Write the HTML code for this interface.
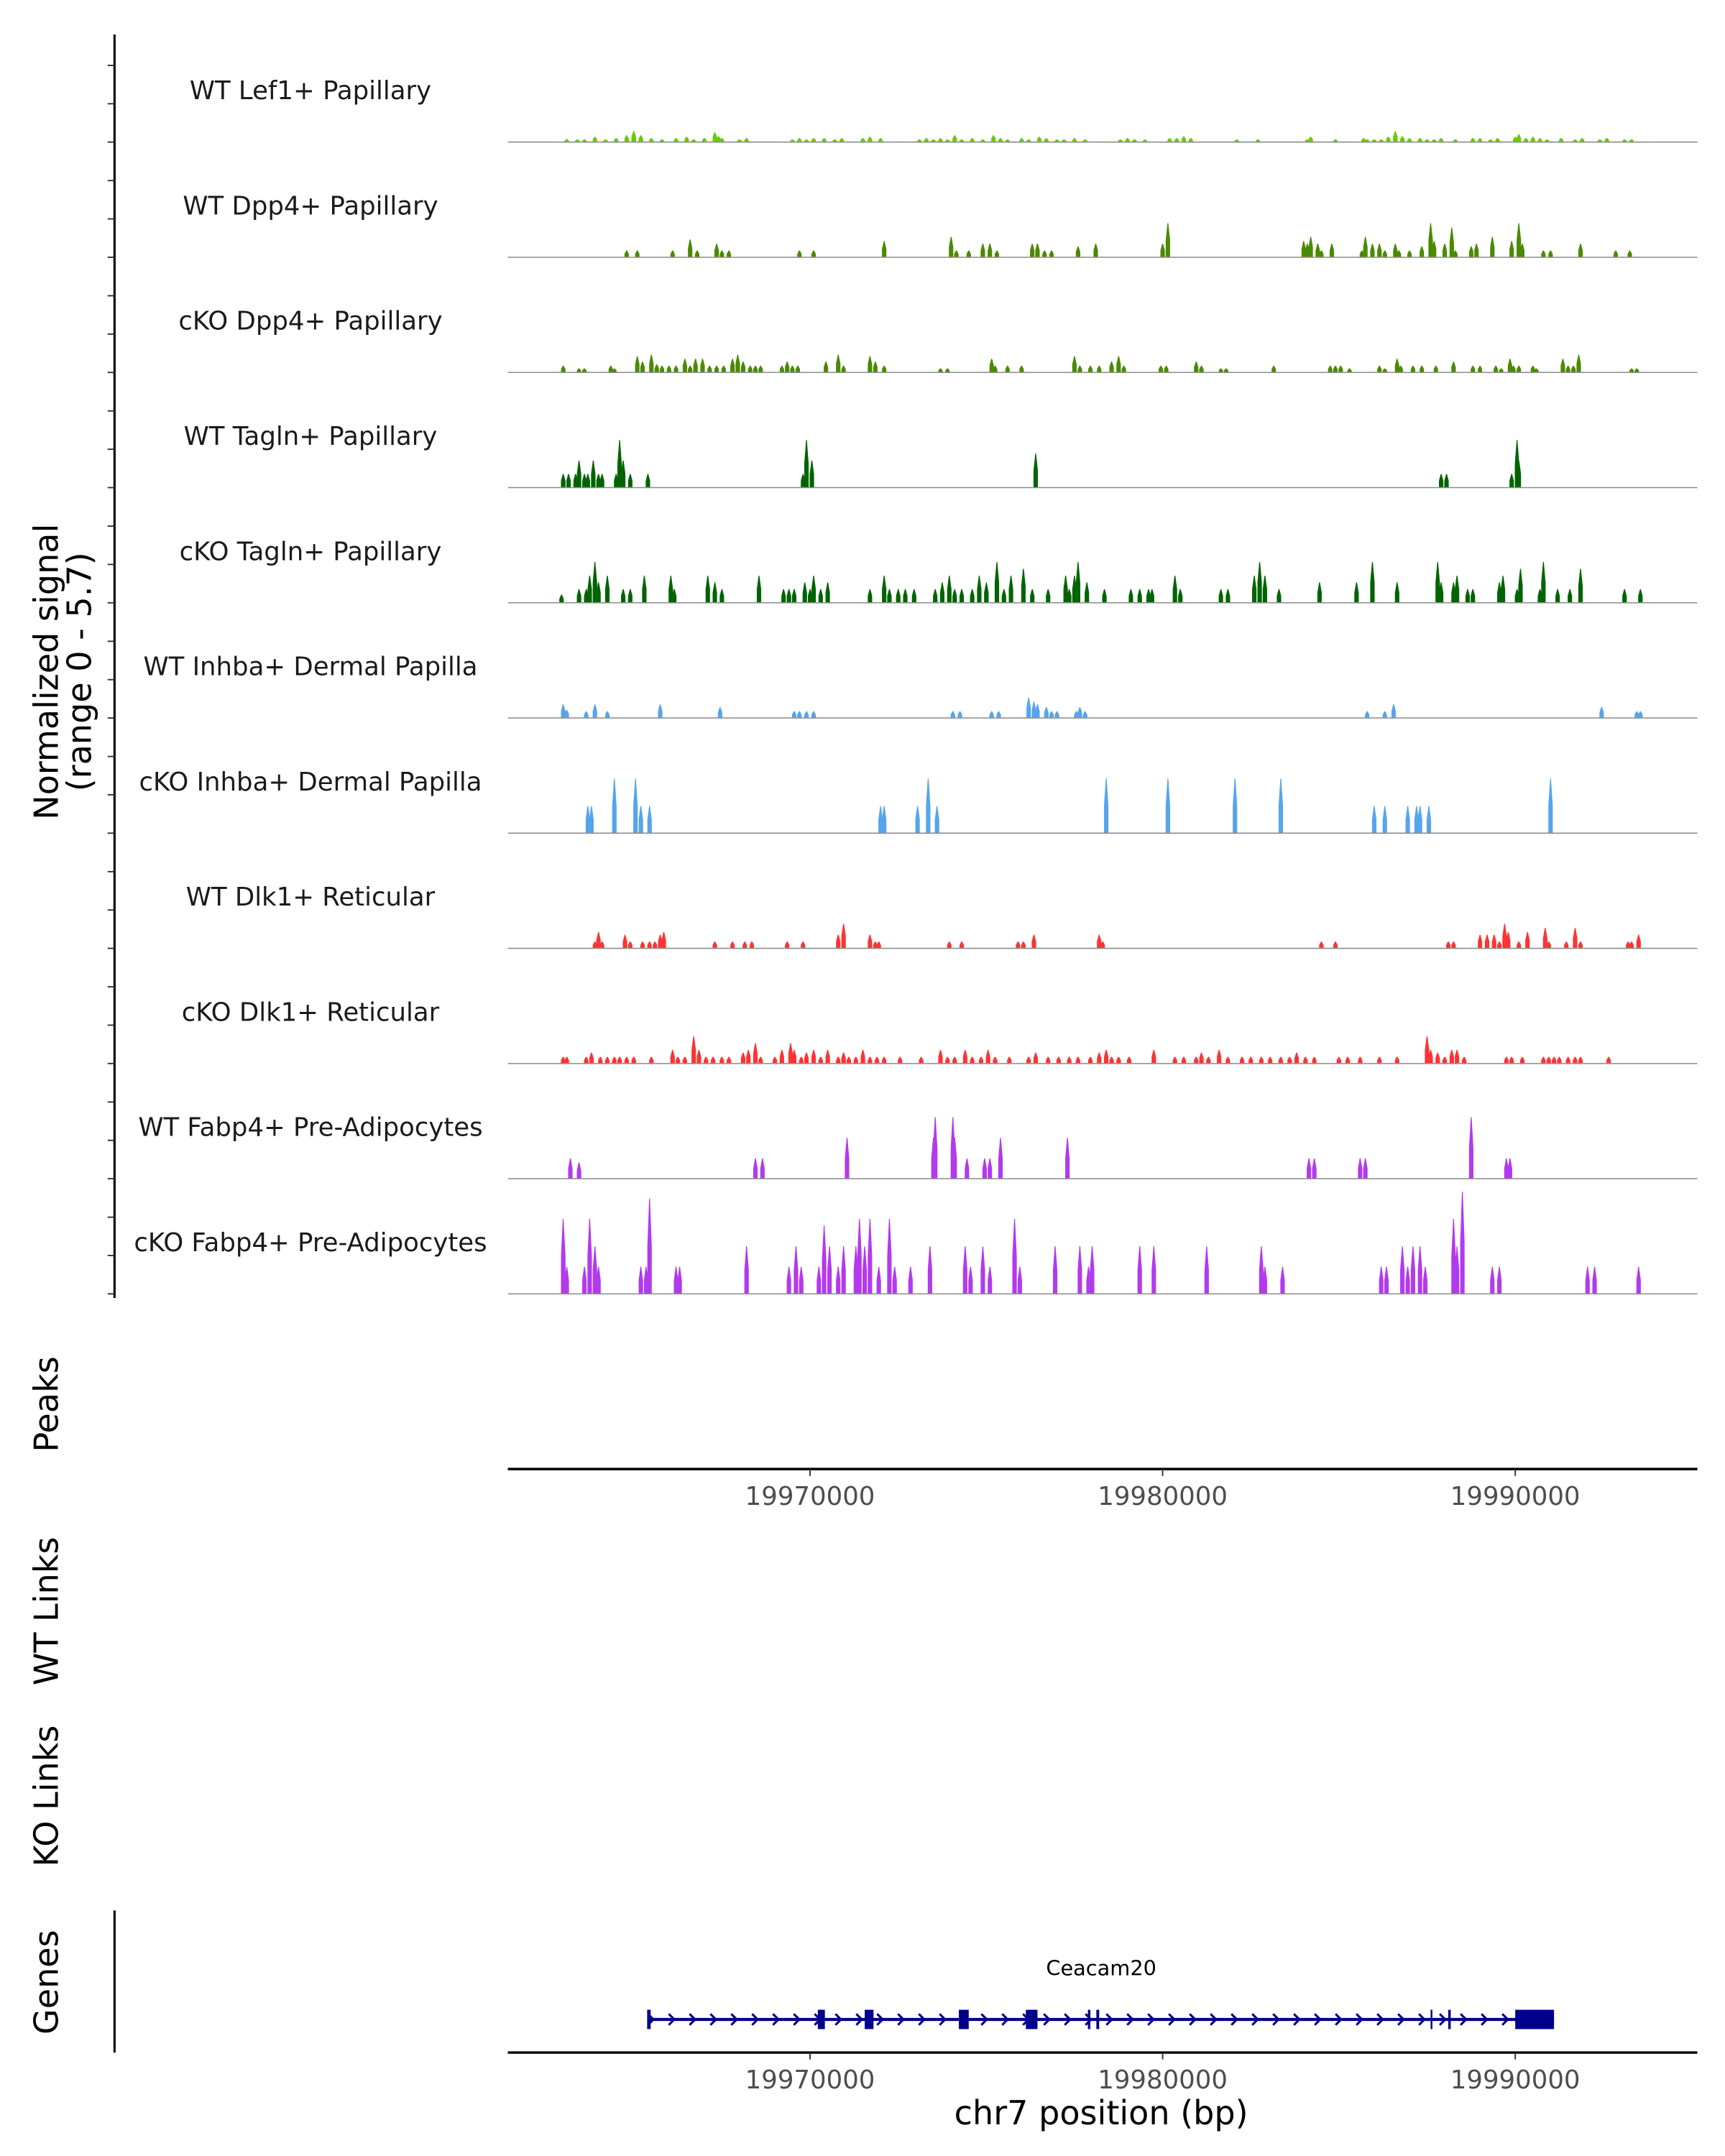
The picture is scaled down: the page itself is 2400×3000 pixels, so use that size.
<!DOCTYPE html>
<html><head><meta charset="utf-8"><style>
html,body{margin:0;padding:0;background:#fff;}
svg{display:block;}
text{font-family:"DejaVu Sans","Liberation Sans",sans-serif;}
</style></head><body>
<svg id="chart" width="2400" height="3000" viewBox="0 0 1250 1563" preserveAspectRatio="none" xmlns="http://www.w3.org/2000/svg">
<rect x="0" y="0" width="1250" height="1563" fill="#fff"/>
<g id="left"></g>
<g id="tracks"></g>
<g id="axes"></g>
<g id="genes"></g>
</svg>
<script>
// ---- data (positions in kb on chr7, values in normalized signal 0-5.7) ----
const trackNames = ["WT Lef1+ Papillary","WT Dpp4+ Papillary","cKO Dpp4+ Papillary","WT Tagln+ Papillary","cKO Tagln+ Papillary","WT Inhba+ Dermal Papilla","cKO Inhba+ Dermal Papilla","WT Dlk1+ Reticular","cKO Dlk1+ Reticular","WT Fabp4+ Pre-Adipocytes","cKO Fabp4+ Pre-Adipocytes"];
const trackColors = ["#66cc00","#4a8a00","#4a8a00","#006400","#006400","#56a5ec","#56a5ec","#ff3333","#ff3333","#b23aee","#b23aee"];
const xTicks = [19970,19980,19990];
const xTickLabels = ["19970000","19980000","19990000"];
const yRange = [0,5.7];

const pos0 = [19963.1,19963.4,19963.6,19963.9,19964.2,19964.5,19964.8,19965.0,19965.2,19965.5,19965.8,19966.2,19966.5,19966.7,19967.0,19967.3,19967.4,19967.5,19968.0,19968.2,19969.5,19969.7,19969.9,19970.1,19970.4,19970.7,19970.9,19971.5,19971.7,19972.0,19973.1,19973.3,19973.5,19973.7,19973.9,19974.1,19974.3,19974.6,19974.9,19975.2,19975.4,19975.6,19976.0,19976.2,19976.5,19976.7,19977.0,19977.2,19977.5,19977.8,19978.8,19979.0,19979.2,19979.5,19980.2,19980.4,19980.6,19980.8,19982.1,19982.7,19984.1,19984.2,19984.9,19985.7,19985.8,19986.0,19986.2,19986.4,19986.6,19986.8,19987.0,19987.3,19987.5,19987.7,19987.9,19988.3,19988.8,19989.0,19989.3,19989.5,19990.0,19990.1,19990.3,19990.5,19990.7,19990.9,19991.3,19991.7,19991.9,19992.4,19992.6,19993.1,19993.3];
const val0 = [.15,.14,.14,.27,.14,.2,.35,.55,.35,.2,.14,.2,.27,.14,.2,.5,.3,.2,.14,.2,.14,.2,.14,.2,.2,.14,.2,.2,.27,.2,.14,.2,.14,.2,.14,.35,.14,.2,.14,.35,.2,.14,.2,.14,.27,.2,.14,.14,.2,.14,.14,.2,.14,.14,.2,.2,.3,.2,.14,.14,.14,.27,.14,.2,.14,.14,.14,.27,.55,.3,.2,.2,.14,.14,.2,.14,.2,.2,.14,.2,.27,.4,.2,.27,.2,.14,.2,.14,.2,.14,.2,.14,.14];

const pos1 = [19964.8,19965.1,19966.1,19966.6,19966.8,19967.35,19967.5,19967.7,19969.7,19970.1,19972.1,19974.0,19974.15,19974.5,19974.9,19975.1,19975.3,19976.3,19976.45,19976.65,19976.85,19977.6,19978.1,19980.0,19980.15,19984.0,19984.1,19984.2,19984.4,19984.5,19984.8,19985.65,19985.75,19985.95,19986.15,19986.3,19986.6,19986.7,19987.0,19987.35,19987.6,19987.7,19988.0,19988.2,19988.3,19988.75,19988.9,19989.35,19989.9,19990.1,19990.2,19990.8,19991.0,19991.85,19992.85,19993.25];
const val1 = [.34,.34,.34,.9,.34,.69,.34,.34,.34,.34,.82,1.03,.34,.34,.69,.69,.34,.69,.69,.34,.34,.55,.69,.69,1.72,.82,.69,1.03,.69,.34,.69,.34,1.03,.69,.69,.34,.69,.34,.34,.55,1.72,.82,.69,1.5,.34,.55,.69,1.03,.82,1.72,.69,.34,.34,.69,.34,.34];

const pos2 = [19963.0,19963.45,19963.6,19964.35,19964.45,19965.1,19965.25,19965.5,19965.65,19965.8,19966.0,19966.2,19966.45,19966.6,19966.75,19966.95,19967.15,19967.35,19967.55,19967.8,19967.95,19968.1,19968.3,19968.45,19968.6,19969.2,19969.35,19969.5,19969.65,19970.45,19970.8,19970.95,19971.7,19971.85,19972.1,19973.7,19973.9,19975.15,19975.25,19975.6,19976.0,19977.5,19977.65,19977.95,19978.2,19978.55,19978.75,19978.9,19979.95,19980.1,19980.95,19981.1,19981.65,19981.8,19983.15,19984.75,19984.9,19985.05,19985.3,19986.15,19986.3,19986.65,19986.75,19987.1,19987.35,19987.75,19988.25,19988.8,19989.0,19989.45,19989.6,19989.85,19989.95,19990.1,19990.5,19990.6,19991.35,19991.5,19991.65,19991.8,19993.3,19993.45];
const val2 = [.34,.2,.2,.34,.2,.82,.55,.9,.41,.34,.34,.34,.69,.34,.69,.69,.34,.34,.34,.69,.9,.55,.34,.34,.34,.34,.55,.34,.34,.55,.9,.34,.82,.55,.34,.2,.2,.69,.34,.34,.34,.82,.34,.34,.34,.55,.82,.34,.34,.34,.55,.34,.2,.2,.34,.34,.34,.34,.2,.34,.2,.69,.34,.34,.34,.34,.55,.34,.34,.34,.2,.69,.34,.34,.34,.2,.69,.34,.34,.9,.2,.2];

const pos3 = [19963.0,19963.15,19963.35,19963.45,19963.6,19963.7,19963.85,19964.0,19964.1,19964.5,19964.6,19964.7,19964.9,19965.4,19969.8,19969.9,19970.05,19976.4,19987.9,19988.05,19989.9,19990.05,19990.1];
const val3 = [.69,.69,.69,1.37,.69,.69,1.37,.69,.69,.69,2.4,1.37,.69,.69,.69,2.4,1.37,1.72,.69,.69,.69,2.4,1.37];

const pos4 = [19962.95,19963.45,19963.65,19963.75,19963.9,19964.0,19964.25,19964.7,19964.9,19965.3,19966.05,19966.15,19967.1,19967.3,19967.5,19968.55,19969.25,19969.4,19969.55,19969.85,19970.0,19970.1,19970.3,19970.5,19971.7,19972.1,19972.25,19972.5,19972.7,19972.95,19973.55,19973.75,19973.95,19974.1,19974.3,19974.6,19974.8,19975.0,19975.3,19975.5,19975.7,19976.05,19976.3,19976.75,19977.25,19977.35,19977.5,19977.6,19977.85,19978.35,19979.1,19979.35,19979.6,19979.7,19980.35,19980.5,19981.65,19981.85,19982.6,19982.75,19982.9,19983.3,19984.45,19985.5,19985.95,19986.65,19987.8,19987.9,19988.25,19988.35,19988.65,19988.8,19989.55,19989.65,19990.05,19990.15,19990.7,19990.8,19991.2,19991.55,19991.85,19993.1,19993.55];
const val4 = [.41,.69,.69,1.37,2.06,1.03,1.37,.69,.69,1.37,1.37,.69,1.37,1.03,.69,1.37,.69,.69,.69,1.03,.69,1.37,.69,1.03,.69,1.37,.69,.69,.69,.69,.69,1.03,1.37,.69,.69,.69,1.37,1.03,2.06,.69,1.37,1.72,.69,.69,1.37,.69,1.37,2.06,1.03,.69,.69,.69,.69,.69,1.37,.69,.69,.69,1.37,2.06,1.37,.69,1.03,1.03,2.06,1.03,2.06,1.03,1.03,1.37,.69,.69,1.03,1.37,.69,1.72,.69,2.06,.69,.69,1.72,.69,.69];

const pos5 = [19963.0,19963.1,19963.65,19963.9,19964.25,19965.75,19967.45,19969.55,19969.7,19969.9,19970.1,19974.05,19974.25,19975.15,19975.35,19976.2,19976.35,19976.45,19976.7,19976.85,19977.0,19977.55,19977.65,19977.8,19985.8,19986.3,19986.55,19992.45,19993.45,19993.55];
const val5 = [.69,.41,.34,.69,.34,.69,.55,.34,.34,.34,.34,.34,.34,.34,.34,1.03,.82,.69,.55,.34,.34,.34,.55,.34,.34,.34,.69,.55,.34,.34];

const pos6 = [19963.7,19963.8,19964.45,19965.05,19965.2,19965.45,19972.0,19972.1,19973.05,19973.35,19973.6,19978.4,19980.15,19982.05,19983.35,19986.0,19986.3,19986.95,19987.2,19987.3,19987.55,19991.0];
const val6 = [1.37,1.37,2.75,2.75,1.37,1.37,1.37,1.37,1.37,2.75,1.37,2.75,2.75,2.75,2.75,1.37,1.37,1.37,1.37,1.37,1.37,2.75];

const pos7 = [19963.9,19964.0,19964.1,19964.75,19964.9,19965.25,19965.45,19965.6,19965.75,19965.85,19967.3,19967.8,19968.15,19968.35,19969.35,19969.8,19970.8,19970.95,19971.7,19971.85,19971.95,19973.95,19974.3,19975.9,19976.05,19976.35,19978.2,19978.3,19984.5,19984.9,19988.1,19988.25,19989.0,19989.2,19989.4,19989.55,19989.7,19989.8,19990.1,19990.35,19990.85,19990.95,19991.45,19991.7,19991.85,19993.2,19993.3,19993.5];
const val7 = [.34,.82,.34,.69,.34,.34,.34,.34,.69,.82,.34,.34,.34,.34,.34,.34,.69,1.24,.69,.34,.34,.34,.34,.34,.34,.69,.69,.34,.34,.34,.34,.34,.69,.69,.69,.34,1.24,.82,.34,.82,1.03,.34,.34,1.03,.34,.34,.34,.69];

const pos8 = [19963.0,19963.1,19963.65,19963.8,19964.05,19964.25,19964.45,19964.6,19964.8,19965.0,19965.5,19966.1,19966.25,19966.45,19966.7,19966.85,19967.05,19967.25,19967.5,19967.7,19968.1,19968.25,19968.45,19968.6,19969.0,19969.2,19969.45,19969.55,19969.75,19969.9,19970.1,19970.3,19970.5,19970.8,19970.95,19971.1,19971.3,19971.5,19971.7,19971.9,19972.1,19972.55,19973.15,19973.7,19973.9,19974.1,19974.4,19974.6,19974.85,19975.05,19975.25,19975.65,19976.2,19976.4,19976.75,19977.05,19977.35,19977.6,19977.95,19978.2,19978.4,19978.55,19978.75,19979.05,19979.75,19980.35,19980.6,19980.95,19981.1,19981.3,19981.6,19981.85,19982.25,19982.5,19982.8,19983.05,19983.35,19983.6,19983.8,19984.05,19984.3,19985.0,19985.25,19985.6,19986.15,19986.65,19987.5,19987.6,19987.8,19988.0,19988.2,19988.35,19988.55,19989.75,19989.9,19990.2,19990.8,19990.95,19991.1,19991.25,19991.5,19991.7,19991.85,19992.65];
const val8 = [.34,.34,.34,.55,.34,.34,.34,.34,.34,.34,.34,.69,.34,.34,1.37,.69,.34,.34,.34,.34,.55,.69,1.03,.34,.34,.69,1.03,.69,.34,.55,.69,.34,.69,.34,.55,.34,.34,.69,.34,.34,.34,.34,.34,.69,.34,.34,.69,.34,.34,.69,.34,.34,.34,.55,.34,.34,.34,.34,.34,.55,.69,.34,.34,.34,.69,.34,.34,.34,.55,.34,.69,.34,.34,.34,.34,.34,.34,.34,.55,.34,.34,.34,.34,.34,.34,.34,1.37,.69,.55,.34,.69,.69,.34,.34,.34,.34,.34,.34,.34,.34,.34,.34,.34,.34];

const pos9 = [19963.2,19963.45,19968.45,19968.65,19971.05,19973.5,19973.55,19974.05,19974.1,19974.45,19974.95,19975.1,19975.4,19977.3,19984.15,19984.3,19985.6,19985.75,19988.75,19989.75,19989.85];
const val9 = [1.03,.82,1.03,1.03,2.06,2.06,3.1,3.1,2.06,1.03,1.03,1.03,2.06,2.06,1.03,1.03,1.03,1.03,3.1,1.03,1.03];

const pos10 = [19963.0,19963.1,19963.6,19963.75,19963.9,19964.0,19965.2,19965.35,19965.45,19966.2,19966.3,19968.2,19969.4,19969.6,19969.75,19970.25,19970.4,19970.55,19970.8,19970.95,19971.3,19971.4,19971.55,19971.7,19971.95,19972.25,19972.4,19972.85,19973.4,19974.4,19974.55,19974.9,19975.1,19975.8,19975.95,19976.95,19977.65,19977.9,19978.0,19979.35,19979.75,19981.25,19982.8,19982.9,19983.4,19986.2,19986.35,19986.8,19986.95,19987.1,19987.3,19987.45,19988.25,19988.35,19988.5,19989.35,19989.55,19992.05,19992.25,19993.5];
const val10 = [3.78,1.37,1.37,3.78,2.4,1.37,1.37,1.37,4.8,1.37,1.37,2.4,1.37,2.4,1.37,1.37,3.44,2.4,1.37,2.4,2.4,3.78,2.4,3.78,1.37,3.78,1.37,1.37,2.4,2.4,1.37,2.4,1.37,3.78,1.37,2.4,2.4,1.37,2.4,2.4,2.4,2.4,2.4,1.37,1.37,1.37,1.37,2.4,1.37,2.4,2.4,1.37,3.78,2.4,5.15,1.37,1.37,1.37,1.37,1.37];

const positions = [pos0,pos1,pos2,pos3,pos4,pos5,pos6,pos7,pos8,pos9,pos10];
const values = [val0,val1,val2,val3,val4,val5,val6,val7,val8,val9,val10];

// gene model (kb)
const geneName = "Ceacam20";
const geneStart = 19965.4;
const geneEnd = 19991.1;
const exonStarts = [19965.38,19970.22,19971.55,19974.22,19976.12,19977.88,19978.12,19987.6,19988.1,19990.0];
const exonEnds = [19965.48,19970.42,19971.8,19974.5,19976.45,19977.95,19978.2,19987.65,19988.17,19991.1];

// ---- layout ----
const NS = "http://www.w3.org/2000/svg";
const X0 = 368, X1 = 1230;
function xs(kb){ return 587 + (kb - 19970) * 25.55; }
const trackBase = i => 103 + i * 83.5;
function ys(v, i){ return trackBase(i) - (v - yRange[0]) / (yRange[1]-yRange[0]) * 82; }
function mk(tag, attrs, parent){ const e = document.createElementNS(NS, tag); for (const k in attrs) e.setAttribute(k, attrs[k]); parent.appendChild(e); return e; }

const left = document.getElementById('left');
const tracks = document.getElementById('tracks');
const axes = document.getElementById('axes');
const genes = document.getElementById('genes');

// left signal axis
let ax = mk('line', {x1:83,y1:25,x2:83,y2:941,stroke:'#000','stroke-width':1.6}, left);


for (let i = 0; i < 11; i++) {
  for (let k = 0; k < 3; k++) {
    const y = trackBase(i) - k * 27.8;
    const t = mk('line', {x1:78,y1:y,x2:83,y2:y,stroke:'#333','stroke-width':1}, left);
    
    
  }
}
function rotText(txt, x, y, name, size) {
  const t = mk('text', {x:x, y:y, 'font-size':size, 'text-anchor':'middle', transform:'rotate(-90 '+x+' '+y+')', fill:'#000'}, left);
  t.textContent = txt;
  
  
  return t;
}
rotText('Normalized signal', 42, 487, 'y-axis-title', 24);
rotText('(range 0 - 5.7)', 66, 487, 'y-axis-range', 24);
rotText('Peaks', 42, 1018, 'peaks-label', 24);
rotText('WT Links', 42, 1168, 'wt-links-label', 24);
rotText('KO Links', 42, 1302, 'ko-links-label', 24);
rotText('Genes', 42, 1437, 'genes-label', 24);

// tracks
for (let i = 0; i < 11; i++) {
  const g = mk('g', {}, tracks);
  
  
  const lab = mk('text', {x:225, y:trackBase(i) - 31, 'font-size':18.5, 'text-anchor':'middle', fill:'#1a1a1a'}, g);
  lab.textContent = trackNames[i];
  
  
  const pos = positions[i], val = values[i];
  let d = '';
  for (let j = 0; j < pos.length; j++) {
    const cx = xs(pos[j]), b = trackBase(i), top = ys(val[j], i);
    const mid = ys(val[j] * 0.5, i);
    d += 'M' + (cx-1.6).toFixed(1) + ' ' + b + 'L' + (cx-1.6).toFixed(1) + ' ' + mid.toFixed(1) + 'L' + (cx-0.3).toFixed(1) + ' ' + top.toFixed(1) + 'L' + (cx+0.3).toFixed(1) + ' ' + top.toFixed(1) + 'L' + (cx+1.6).toFixed(1) + ' ' + mid.toFixed(1) + 'L' + (cx+1.6).toFixed(1) + ' ' + b + 'Z';
  }
  const p = mk('path', {d:d, fill:trackColors[i]}, g);
  
  
  const bl = mk('line', {x1:X0,y1:trackBase(i),x2:X1,y2:trackBase(i),stroke:'#8c8c8c','stroke-width':0.8}, g);
  
  
}

// x axes
function xAxis(y, name) {
  const g = mk('g', {}, axes);
  
  
  mk('line', {x1:X0,y1:y,x2:X1,y2:y,stroke:'#000','stroke-width':1.8}, g);
  for (let k = 0; k < xTicks.length; k++) {
    const x = xs(xTicks[k]);
    const tk = mk('line', {x1:x,y1:y,x2:x,y2:y+5,stroke:'#333','stroke-width':1}, g);
    
    
    const tl = mk('text', {x:x, y:y+26, 'font-size':18.5, 'text-anchor':'middle', fill:'#4d4d4d'}, g);
    tl.textContent = xTickLabels[k];
    
    
  }
}
xAxis(1065, 'peaks-x-axis');
xAxis(1488, 'genes-x-axis');
const xt = mk('text', {x:798, y:1540, 'font-size':24, 'text-anchor':'middle', fill:'#000'}, axes);
xt.textContent = 'chr7 position (bp)';



// genes panel
const gax = mk('line', {x1:83,y1:1385,x2:83,y2:1488,stroke:'#000','stroke-width':1.6}, genes);


const gy = 1464;
const gl = mk('line', {x1:xs(geneStart),y1:gy,x2:xs(geneEnd),y2:gy,stroke:'#00008b','stroke-width':2.2}, genes);


let chev = '';
for (let x = xs(geneStart) + 2; x < xs(geneEnd) - 8; x += 15.1) {
  chev += 'M' + (x-2).toFixed(1) + ' ' + (gy-4) + 'L' + (x+2).toFixed(1) + ' ' + gy + 'L' + (x-2).toFixed(1) + ' ' + (gy+4);
}
const ch = mk('path', {d:chev, fill:'none', stroke:'#00008b', 'stroke-width':1.6}, genes);


for (let k = 0; k < exonStarts.length; k++) {
  const x1 = xs(exonStarts[k]), x2 = xs(exonEnds[k]);
  const e = mk('rect', {x:x1, y:gy-7, width:Math.max(1.2, x2-x1), height:14, fill:'#00008b'}, genes);
  
  
}
const gn = mk('text', {x:798, y:1432, 'font-size':15, 'text-anchor':'middle', fill:'#000'}, genes);
gn.textContent = geneName;


</script>
</body></html>
